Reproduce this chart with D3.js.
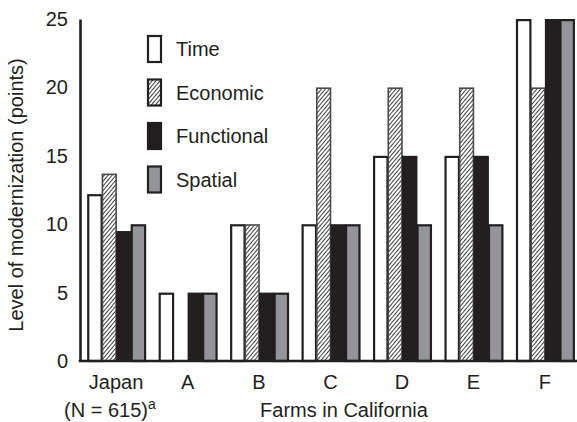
<!DOCTYPE html>
<html>
<head>
<meta charset="utf-8">
<script src="https://cdn.jsdelivr.net/npm/d3@7/dist/d3.min.js"></script>
<style>
  body { margin: 0; background: #fff; }
  text { font-family: "Liberation Sans", Arial, Helvetica, sans-serif; fill: #231f20; }
</style>
</head>
<body>
<svg id="chart" width="577" height="422"></svg>
<script>
const categories = ["Japan", "A", "B", "C", "D", "E", "F"];
const seriesNames = ["Time", "Economic", "Functional", "Spatial"];
const timeValues = [12.2, 5, 10, 10, 15, 15, 25];
const economicValues = [13.7, 0, 10, 20, 20, 20, 20];
const functionalValues = [9.5, 5, 5, 10, 15, 15, 25];
const spatialValues = [10, 5, 5, 10, 10, 10, 25];
const yTicks = [0, 5, 10, 15, 20, 25];
const yTitle = "Level of modernization (points)";
const xTitle = "Farms in California";

const seriesValues = [timeValues, economicValues, functionalValues, spatialValues];
const ink = "#231f20";
const styles = {
  Time: { fill: "#ffffff", stroke: ink, sw: 2.2 },
  Economic: { fill: "url(#hatch)", stroke: "#4a4a4a", sw: 1.6 },
  Functional: { fill: ink, stroke: ink, sw: 2 },
  Spatial: { fill: "#939598", stroke: ink, sw: 2.2 }
};

const svg = d3.select("#chart");
const defs = svg.append("defs");
const pat = defs.append("pattern")
  .attr("id", "hatch").attr("patternUnits", "userSpaceOnUse")
  .attr("width", 3).attr("height", 3)
  .attr("patternTransform", "rotate(40)");
pat.append("rect").attr("width", 3).attr("height", 3).attr("fill", "#fff");
pat.append("line").attr("x1", 0.5).attr("y1", 0).attr("x2", 0.5).attr("y2", 3)
  .attr("stroke", "#2a2a2a").attr("stroke-width", 0.9);

const axisX = 80, baseY = 361, topY = 19;
const x = d3.scaleBand().domain(categories).range([axisX, 581])
  .paddingInner(0.189).paddingOuter(0.1);
const xs = d3.scaleBand().domain(seriesNames).range([0, x.bandwidth()]).padding(0);
const y = d3.scaleLinear().domain([0, 25]).range([baseY, topY]);

// bars
seriesNames.forEach((s, si) => {
  const st = styles[s];
  svg.append("g").selectAll("rect")
    .data(categories.map((c, i) => ({ c, v: seriesValues[si][i] })).filter(d => d.v > 0))
    .join("rect")
    .attr("x", d => x(d.c) + xs(s) + st.sw / 2)
    .attr("y", d => y(d.v) + st.sw / 2)
    .attr("width", xs.bandwidth() - st.sw / 2)
    .attr("height", d => baseY - y(d.v) - st.sw / 2)
    .attr("fill", st.fill)
    .attr("stroke", st.stroke)
    .attr("stroke-width", st.sw);
});

// y axis
const yAxis = svg.append("g").attr("transform", `translate(${axisX},0)`)
  .call(d3.axisLeft(y).tickValues(yTicks).tickSize(0).tickPadding(12).tickFormat(d3.format("d")));
yAxis.select(".domain").attr("stroke", ink).attr("stroke-width", 2.6);
yAxis.selectAll("text").attr("font-size", 20).attr("fill", ink)
  .style("font-family", '"Liberation Sans", Arial, sans-serif');

// x axis baseline
const xAxis = svg.append("g").attr("transform", `translate(0,${baseY})`)
  .call(d3.axisBottom(x).tickSize(0).tickPadding(14));
xAxis.select(".domain").attr("d", `M${axisX - 1.3},0H577`).attr("stroke", ink).attr("stroke-width", 2.6);
xAxis.selectAll("text").attr("font-size", 20).attr("fill", ink)
  .style("font-family", '"Liberation Sans", Arial, sans-serif');

// Japan sub-label
const nLabel = svg.append("text").attr("x", 64).attr("y", 417).attr("font-size", 20);
nLabel.append("tspan").text("(N = 615)");
nLabel.append("tspan").attr("font-size", 14).attr("dy", -8).text("a");

// x title
svg.append("text").attr("x", 344).attr("y", 417).attr("text-anchor", "middle")
  .attr("font-size", 20).text(xTitle);

// y title
svg.append("text").attr("transform", `translate(23,${(topY + baseY) / 2 + 5}) rotate(-90)`)
  .attr("text-anchor", "middle").attr("font-size", 20).text(yTitle);

// legend
const lg = svg.append("g");
seriesNames.forEach((s, i) => {
  const st = styles[s];
  const ty = 36 + i * 43.5;
  lg.append("rect").attr("x", 148).attr("y", ty).attr("width", 13).attr("height", 26)
    .attr("fill", st.fill).attr("stroke", s === "Economic" ? ink : st.stroke).attr("stroke-width", 2.2);
  lg.append("text").attr("x", 176).attr("y", ty + 20).attr("font-size", 20).text(s);
});
</script>
</body>
</html>
